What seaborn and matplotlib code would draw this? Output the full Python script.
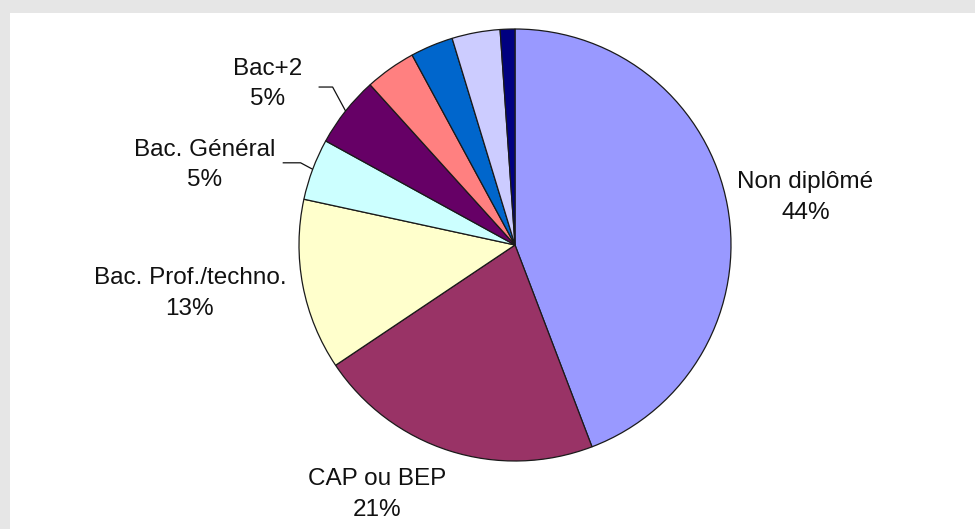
import numpy as np
import matplotlib
matplotlib.use("Agg")
import matplotlib.pyplot as plt
from matplotlib.patches import Rectangle
import seaborn as sns

# ---- data ----
categories = ["Non diplômé", "CAP ou BEP", "Bac. Prof./techno.", "Bac. Général",
              "Bac+2", "Autre 1", "Autre 2", "Autre 3", "Autre 4"]
shares = [44.2, 21.4, 12.8, 4.6, 5.3, 3.8, 3.2, 3.6, 1.1]
show_label = [True, True, True, True, True, False, False, False, False]
colors = ["#9999FF", "#993366", "#FFFFCC", "#CCFFFF", "#660066",
          "#FF8080", "#0066CC", "#CCCCFF", "#000080"]

# label block centres (layout, in pie-radius units)
label_pos = {
    "Non diplômé": (1.345, 0.22),
    "CAP ou BEP": (-0.64, -1.155),
    "Bac. Prof./techno.": (-1.505, -0.225),
    "Bac. Général": (-1.435, 0.37),
    "Bac+2": (-1.145, 0.745),
}
# leader lines: (elbow dx, elbow dy, horizontal run) from the wedge edge
leaders = {"Bac+2": (-0.06, 0.111, 0.065), "Bac. Général": (-0.056, 0.03, 0.083)}

sns.set_theme(style="white")
plt.rcParams["font.family"] = ["Liberation Sans", "DejaVu Sans"]

W, H = 975, 529
fig = plt.figure(figsize=(W / 100, H / 100), dpi=100)
fig.patch.set_facecolor("#E6E6E6")
fig.add_artist(Rectangle((10 / W, 0), (W - 10) / W, (H - 13) / H,
                         transform=fig.transFigure, facecolor="white",
                         edgecolor="none", zorder=0))

cx, cy, R = 515, 245, 216
ax = fig.add_axes([10 / W, 0, (W - 10) / W, (H - 13) / H])
wedges, _ = ax.pie(shares, colors=colors, startangle=90, counterclock=False,
                   wedgeprops=dict(edgecolor="#1a1a1a", linewidth=0.9))
ax.set_xlim((10 - cx) / R, (W - cx) / R)
ax.set_ylim((cy - H) / R, (cy - 13) / R)
ax.set_aspect("equal", adjustable="box")
ax.axis("off")

for w, cat, val, show in zip(wedges, categories, shares, show_label):
    if not show:
        continue
    x, y = label_pos[cat]
    ax.text(x, y, f"{cat}\n{val:.0f}%", ha="center", va="center",
            fontsize=17.5, linespacing=1.5, color="#111111")
    if cat in leaders:
        dx, dy, run = leaders[cat]
        mid = np.deg2rad((w.theta1 + w.theta2) / 2)
        p0 = (np.cos(mid), np.sin(mid))
        p1 = (p0[0] + dx, p0[1] + dy)
        p2 = (p1[0] - run, p1[1])
        ax.plot([p0[0], p1[0], p2[0]], [p0[1], p1[1], p2[1]],
                color="#111111", lw=0.9, solid_capstyle="butt")

fig.savefig("out.png", dpi=100, facecolor=fig.get_facecolor())
